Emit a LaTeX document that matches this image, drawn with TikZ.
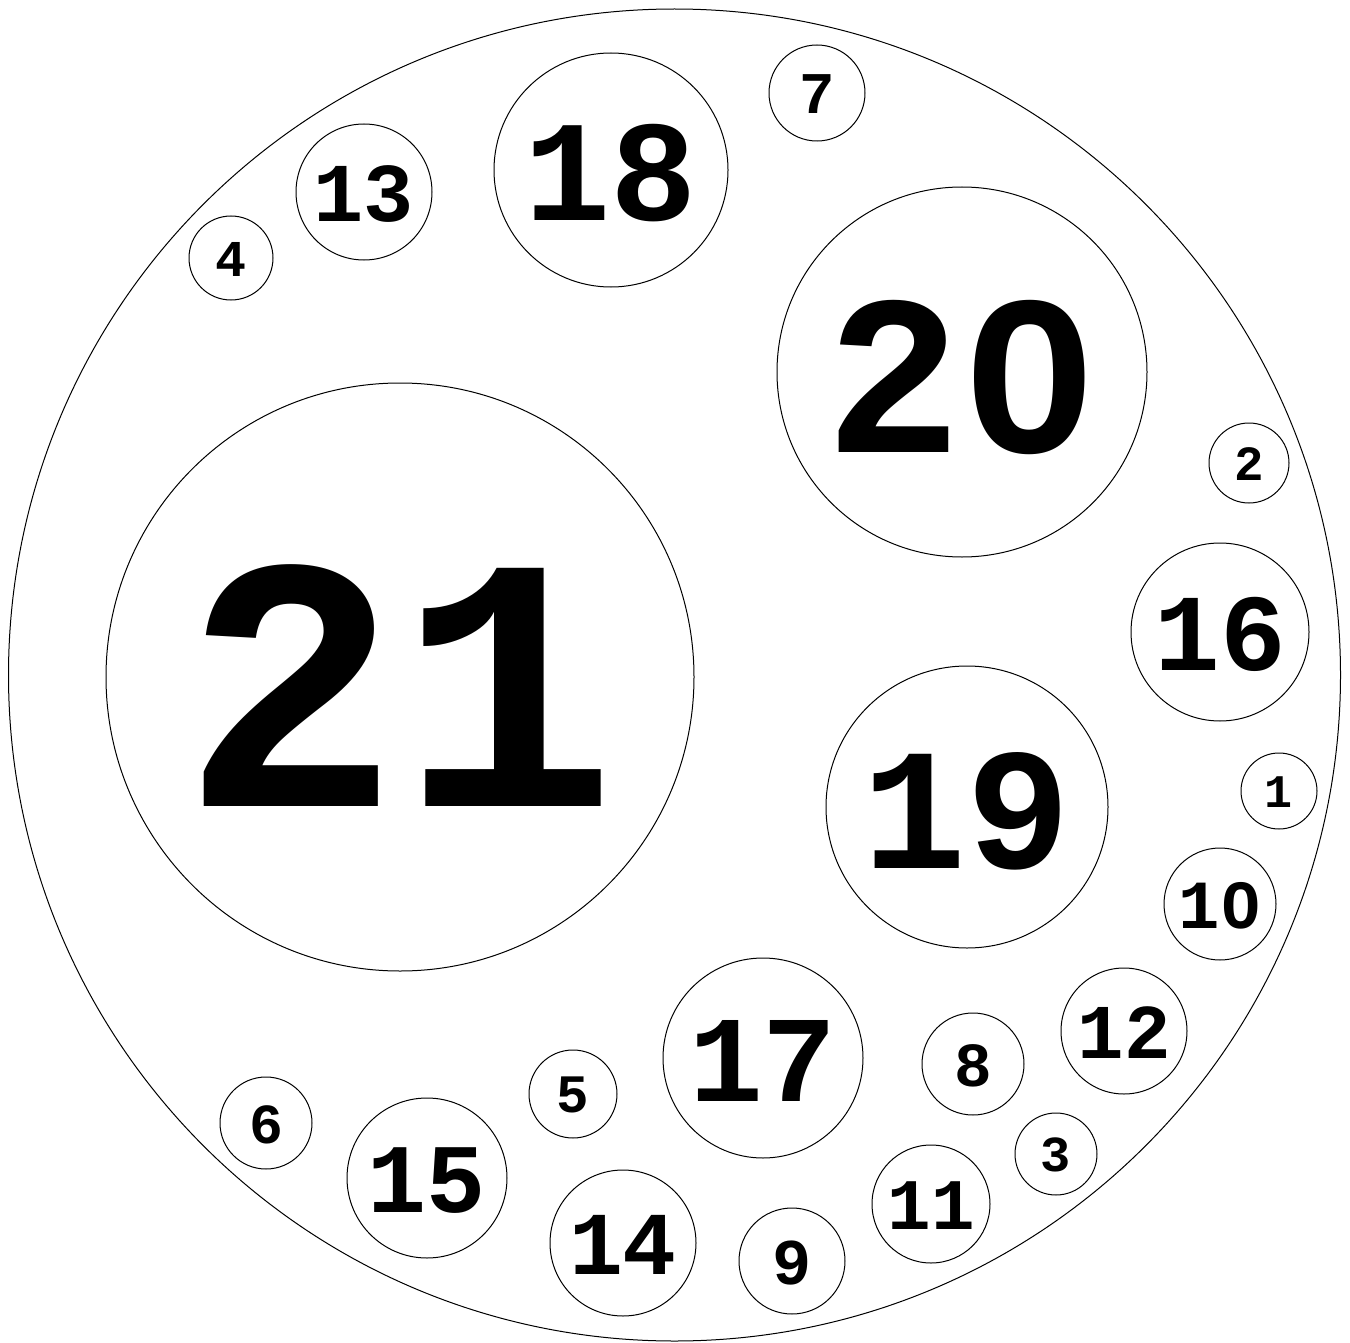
\documentclass[tikz,border=0pt]{standalone}
\usepackage{fontspec}
\newfontfamily\numfont{Liberation Mono}[BoldFont={* Bold}]
\tikzset{
  ring/.style={circle, draw, line width=0.5pt, inner sep=0pt, outer sep=0pt},
  numtext/.style={inner sep=0pt, outer sep=0pt}
}
\newcommand{\ball}[5]{%
  \pgfmathsetmacro\fsz{0.615*#4}%
  \pgfmathsetmacro\dia{#4}%
  \pgfmathsetmacro\dy{0.03*#4}%
  \node[ring, minimum size=\dia pt] (c#1) at (#2,#3) {};
  \node[numtext, font={\numfont\bfseries\fontsize{\fsz pt}{\fsz pt}\selectfont}, yshift=-\dy*0.5pt] (t#1) at (c#1) {#5};
}
% hide the dot inside the zero of the second digit
\newcommand{\plainzero}[2]{%
  \pgfmathsetmacro\fsz{0.615*#2}%
  \fill[white] ([xshift=0.3*\fsz pt]t#1.center) ++(-0.065*\fsz pt,-0.1*\fsz pt) rectangle ++(0.13*\fsz pt,0.2*\fsz pt);
}
\begin{document}
\begin{tikzpicture}[x=0.5pt, y=-0.5pt]
\useasboundingbox (0,0) rectangle (1350,1343);
\node[ring, minimum size=666pt] (outer) at (674.5,675) {};
\ball{21}{400}{677}{294}{21}
\ball{20}{962}{372}{185}{20}
\ball{19}{967}{807}{141}{19}
\ball{18}{611}{170}{117}{18}
\ball{17}{763}{1058}{100}{17}
\ball{16}{1220}{632}{89}{16}
\ball{15}{427}{1178}{80}{15}
\ball{14}{623}{1243}{73}{14}
\ball{13}{364}{192}{68}{13}
\ball{12}{1124}{1031}{63}{12}
\ball{11}{931}{1204}{59}{11}
\ball{10}{1220}{904}{56}{10}
\ball{9}{792}{1261}{53}{9}
\ball{8}{973}{1064}{51}{8}
\ball{7}{817}{93}{48}{7}
\ball{6}{266}{1123}{46}{6}
\ball{5}{573}{1094}{44}{5}
\ball{4}{231}{258}{42}{4}
\ball{3}{1056}{1154}{41}{3}
\ball{2}{1249}{463}{40}{2}
\ball{1}{1279}{791}{38}{1}
\plainzero{20}{185}
\plainzero{10}{56}
\end{tikzpicture}
\end{document}
